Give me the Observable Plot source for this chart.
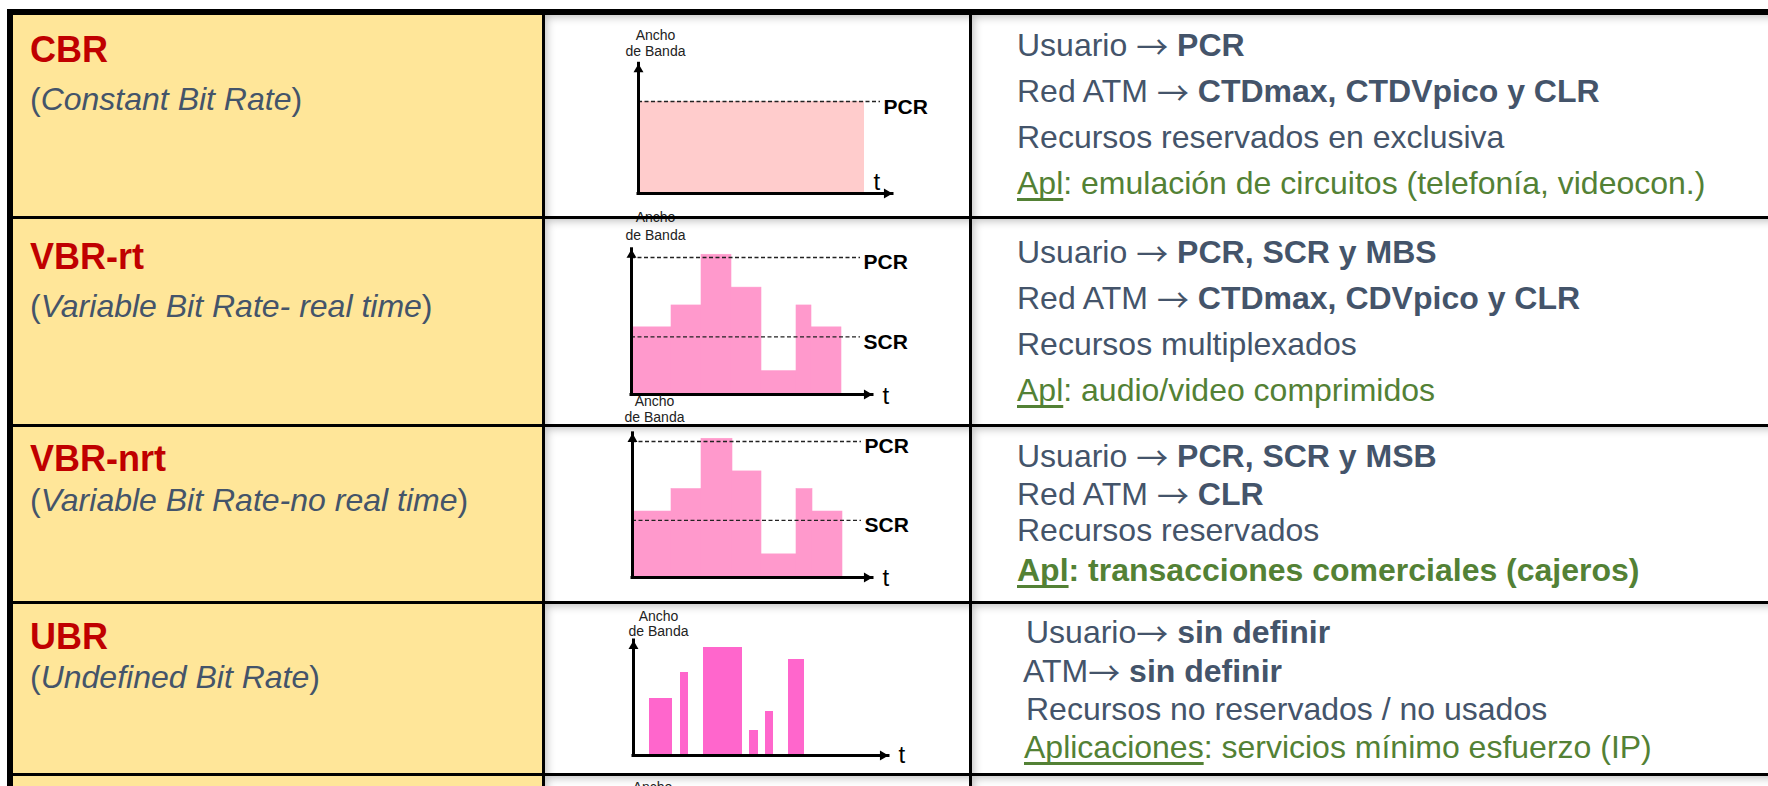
<!DOCTYPE html>
<html>
<head>
<meta charset="utf-8">
<script src="https://cdn.jsdelivr.net/npm/d3@7"></script>
<script src="https://cdn.jsdelivr.net/npm/@observablehq/plot@0.6"></script>
<style>
html, body { margin: 0; padding: 0; background: #fff; }
#page { position: relative; width: 1768px; height: 786px; overflow: hidden; background: #fff;
  font-family: "Liberation Sans", Arial, Helvetica, sans-serif; }
.abs { position: absolute; }
.line { position: absolute; white-space: nowrap; }
.arrow { font-family: "Noto Sans CJK JP", "Noto Sans CJK SC", "DejaVu Sans", sans-serif; font-weight: normal; vertical-align: -3px; }
</style>
</head>
<body>
<div id="page"></div>
<script>
// ---------------- DATA ----------------
const categories = ["CBR", "VBR-rt", "VBR-nrt", "UBR"];
const categoryNames = ["Constant Bit Rate", "Variable Bit Rate- real time", "Variable Bit Rate-no real time", "Undefined Bit Rate"];
const userPrefix = ["Usuario \u2192 ", "Usuario \u2192 ", "Usuario \u2192 ", "Usuario\u2192 "];
const userParams = ["PCR", "PCR, SCR y MBS", "PCR, SCR y MSB", "sin definir"];
const netPrefix = ["Red ATM \u2192 ", "Red ATM \u2192 ", "Red ATM \u2192 ", "ATM\u2192 "];
const netParams = ["CTDmax, CTDVpico y CLR", "CTDmax, CDVpico y CLR", "CLR", "sin definir"];
const resources = ["Recursos reservados en exclusiva", "Recursos multiplexados", "Recursos reservados", "Recursos no reservados / no usados"];
const appLabels = ["Apl", "Apl", "Apl", "Aplicaciones"];
const applications = [": emulación de circuitos (telefonía, videocon.)", ": audio/video comprimidos", ": transacciones comerciales (cajeros)", ": servicios mínimo esfuerzo (IP)"];

const axisLabel = "Ancho\nde Banda";
const timeLabel = "t";
const rateLabels = ["PCR", "SCR"];

// CBR: constant rate at PCR
const cbrEnd = 22.6;
const cbrRate = 10;
const cbrPCR = 10;

// VBR-rt: piecewise constant rate
const vbrRtTimes = [0, 4, 7, 10, 13, 16.5, 18, 21];
const vbrRtRates = [4.9, 6.5, 10.2, 7.8, 1.7, 6.5, 4.9];
const vbrRtPCR = 10;
const vbrRtSCR = 4.2;

// VBR-nrt
const vbrNrtTimes = [0, 3.9, 6.9, 10, 12.9, 16.4, 18, 21];
const vbrNrtRates = [4.85, 6.5, 10.2, 7.8, 1.7, 6.5, 4.85];
const vbrNrtPCR = 10;
const vbrNrtSCR = 4.2;

// UBR: bursts
const ubrStart = [1.6, 4.7, 7.0, 11.6, 13.2, 15.5];
const ubrEnd = [3.9, 5.5, 10.9, 12.5, 14.0, 17.1];
const ubrRates = [5.7, 8.3, 10.8, 2.5, 4.4, 9.6];

// ---------------- STYLE / LAYOUT ----------------
const FONT = '"Liberation Sans", Arial, Helvetica, sans-serif';
const RED = "#C00000", SLATE = "#44546A", GREEN = "#538135", YELLOW = "#FFE699";
const UL = { textDecorationLine: "underline", textDecorationThickness: "2.6px", textUnderlineOffset: "4px", textDecorationSkipInk: "none" };
const STYLES = {
  n: { color: SLATE }, b: { color: SLATE, fontWeight: "bold" },
  g: { color: GREEN }, gu: Object.assign({ color: GREEN }, UL),
  gb: { color: GREEN, fontWeight: "bold" }, gbu: Object.assign({ color: GREEN, fontWeight: "bold" }, UL),
  t: { color: RED, fontWeight: "bold" }, i: { color: SLATE, fontStyle: "italic" }, p: { color: SLATE }
};
const appBold = [false, false, true, false];

const rowTops = [15, 219, 426.5, 603.5, 776];
const rowBottoms = [216, 423.5, 600.5, 773, 786];
const colX = [13, 545, 971.5];
const colR = [542, 968.5, 1768];

const titleBase = [62, 269, 471, 649];
const subBase = [110, 317, 511, 688];
const descBase = [[56.5, 102, 148, 194], [263, 309, 355, 401], [467, 505, 541.5, 581.5], [643, 682.5, 720.5, 758]];
const descX = [[1017, 1017, 1017, 1017], [1017, 1017, 1017, 1017], [1017, 1017, 1017, 1017], [1026, 1023, 1026, 1024]];

const page = document.getElementById("page");
function box(x, y, w, h, css) {
  const d = document.createElement("div");
  d.className = "abs";
  Object.assign(d.style, { left: x + "px", top: y + "px", width: w + "px", height: h + "px" }, css || {});
  page.appendChild(d);
  return d;
}
function textLine(x, baseline, size, pieces) {
  const d = document.createElement("div");
  d.className = "line";
  d.style.left = x + "px";
  d.style.top = (baseline - 0.8465 * size) + "px";
  d.style.fontSize = size + "px";
  d.style.lineHeight = size + "px";
  for (const [txt, st] of pieces) {
    const s = document.createElement("span");
    Object.assign(s.style, STYLES[st]);
    txt.split("\u2192").forEach((part, k) => {
      if (k > 0) {
        const a = document.createElement("span");
        a.className = "arrow";
        a.textContent = "\u2192";
        s.appendChild(a);
      }
      if (part) s.appendChild(document.createTextNode(part));
    });
    d.appendChild(s);
  }
  page.appendChild(d);
}

// cell backgrounds
box(colX[0], 15, colR[0] - colX[0], 786 - 15, { background: YELLOW });
for (let r = 0; r < rowTops.length; r++) {
  for (let c = 1; c < 3; c++) {
    box(colX[c], rowTops[r], colR[c] - colX[c], rowBottoms[r] - rowTops[r],
      { background: "#fff", boxShadow: "inset 7px 7px 8px -5px rgba(0,0,0,0.25)" });
  }
}

// ---------------- MINI CHARTS (Plot) ----------------
function segs(times, rates) { return rates.map((r, i) => ({ t0: times[i], t1: times[i + 1], r })); }

function axisMarks(c) {
  return [
    Plot.ruleY([0], { x1: 0, x2: c.xTip, stroke: "#000", strokeWidth: 3, strokeLinecap: "square" }),
    Plot.ruleX([0], { y1: 0, y2: c.yTip, stroke: "#000", strokeWidth: 3, strokeLinecap: "square" }),
    Plot.dot([0], { x: c.xTip, y: 0, symbol: "triangle", r: 3.7, fill: "#000", stroke: null, rotate: 90, dx: -5.7 }),
    Plot.dot([0], { x: 0, y: c.yTip, symbol: "triangle", r: 3.7, fill: "#000", stroke: null, dy: 5.7 }),
    Plot.text([axisLabel], { x: 0, y: c.yTip, text: d => d, dx: c.labelDx, dy: c.labelDy, lineAnchor: "bottom",
      lineHeight: c.labelLH / 14, fontSize: 14, fill: "#222", textAnchor: "middle" }),
    Plot.text([timeLabel], { x: c.xTip, y: 0, text: d => d, dx: c.tDx, dy: c.tDy, lineAnchor: "bottom",
      textAnchor: "start", fontSize: 24, fill: "#000" })
  ];
}
function rateMarks(values, end, lblDy) {
  const data = values.map((v, i) => ({ v, label: rateLabels[i] }));
  return [
    Plot.ruleY(data, { y: "v", x1: 0, x2: end, stroke: "#222", strokeWidth: 1.3, strokeDasharray: "4,2.5" }),
    Plot.text(data, { x: end, y: "v", text: "label", dx: 3, dy: lblDy, textAnchor: "start", lineAnchor: "middle",
      fontWeight: "bold", fontSize: 21, fill: "#000" })
  ];
}
function miniChart(c, marks) {
  const [bx, by, bw, bh] = c.box;
  const svg = Plot.plot({
    width: bw, height: bh, margin: 0,
    x: { type: "linear", domain: [0, 1], range: [c.origin[0] - bx, c.origin[0] - bx + c.k[0]], axis: null },
    y: { type: "linear", domain: [0, 1], range: [c.origin[1] - by, c.origin[1] - by - c.k[1]], axis: null },
    style: { background: "transparent", overflow: "visible", fontFamily: FONT },
    marks
  });
  Object.assign(svg.style, { position: "absolute", left: bx + "px", top: by + "px", maxWidth: "none" });
  page.appendChild(svg);
}

const chartCfg = [
  { box: [545, 15, 423, 201], origin: [638, 193], k: [10, 9.2], xTip: 25.4, yTip: 14.1, dashEnd: 24.2,
    labelDx: 17, labelDy: -8, labelLH: 16, tDx: -19, tDy: -4, lblDy: 6 },
  { box: [545, 205, 423, 218], origin: [631, 394], k: [10, 13.7], xTip: 24.1, yTip: 10.6, dashEnd: 22.9,
    labelDx: 24, labelDy: -9, labelLH: 18, tDx: 10, tDy: 9, lblDy: 5 },
  { box: [545, 390, 423, 210], origin: [632, 577], k: [10, 13.6], xTip: 24.0, yTip: 10.6, dashEnd: 22.9,
    labelDx: 22, labelDy: -11, labelLH: 16, tDx: 10, tDy: 8, lblDy: 5 },
  { box: [545, 603, 423, 170], origin: [633, 755], k: [10, 10], xTip: 25.5, yTip: 11.5,
    labelDx: 25, labelDy: -5, labelLH: 15, tDx: 10, tDy: 7 }
];

// CBR
miniChart(chartCfg[0], [
  Plot.rect([{ t0: 0, t1: cbrEnd, r: cbrRate }], { x1: "t0", x2: "t1", y1: 0, y2: "r", fill: "#FFCCCC" }),
  ...rateMarks([cbrPCR], chartCfg[0].dashEnd, chartCfg[0].lblDy),
  ...axisMarks(chartCfg[0])
]);
// VBR-rt
miniChart(chartCfg[1], [
  Plot.rect(segs(vbrRtTimes, vbrRtRates), { x1: "t0", x2: "t1", y1: 0, y2: "r", fill: "#FF99CC", stroke: "#FF99CC", strokeWidth: 0.6 }),
  ...rateMarks([vbrRtPCR, vbrRtSCR], chartCfg[1].dashEnd, chartCfg[1].lblDy),
  ...axisMarks(chartCfg[1])
]);
// VBR-nrt
miniChart(chartCfg[2], [
  Plot.rect(segs(vbrNrtTimes, vbrNrtRates), { x1: "t0", x2: "t1", y1: 0, y2: "r", fill: "#FF99CC", stroke: "#FF99CC", strokeWidth: 0.6 }),
  ...rateMarks([vbrNrtPCR, vbrNrtSCR], chartCfg[2].dashEnd, chartCfg[2].lblDy),
  ...axisMarks(chartCfg[2])
]);
// UBR
miniChart(chartCfg[3], [
  Plot.rect(ubrRates.map((r, i) => ({ t0: ubrStart[i], t1: ubrEnd[i], r })), { x1: "t0", x2: "t1", y1: 0, y2: "r", fill: "#FF66CC" }),
  ...axisMarks(chartCfg[3])
]);
// next row (cut off at the bottom, as in the reference)
miniChart({ box: [545, 776, 423, 10], origin: [632, 780], k: [10, 10] }, [
  Plot.text([axisLabel], { x: 0, y: 0, text: d => d, dx: 20, lineAnchor: "top", lineHeight: 16 / 14, fontSize: 14, fill: "#222", textAnchor: "middle" })
]);

// ---------------- TEXT ----------------
for (let r = 0; r < categories.length; r++) {
  textLine(30, titleBase[r], 36, [[categories[r], "t"]]);
  textLine(30, subBase[r], 32, [["(", "p"], [categoryNames[r], "i"], [")", "p"]]);
  const lines = [
    [[userPrefix[r], "n"], [userParams[r], "b"]],
    [[netPrefix[r], "n"], [netParams[r], "b"]],
    [[resources[r], "n"]],
    [[appLabels[r], appBold[r] ? "gbu" : "gu"], [applications[r], appBold[r] ? "gb" : "g"]]
  ];
  lines.forEach((pieces, j) => textLine(descX[r][j], descBase[r][j], 32, pieces));
}

// ---------------- GRID LINES ----------------
box(7, 9, 1768 - 7, 6, { background: "#000" });
box(7, 9, 6, 786 - 9, { background: "#000" });
box(542, 9, 3, 786 - 9, { background: "#000" });
box(968.5, 9, 3, 786 - 9, { background: "#000" });
for (const y of [216, 423.5, 600.5, 773]) box(7, y, 1768 - 7, 3, { background: "#000" });
</script>
</body>
</html>
